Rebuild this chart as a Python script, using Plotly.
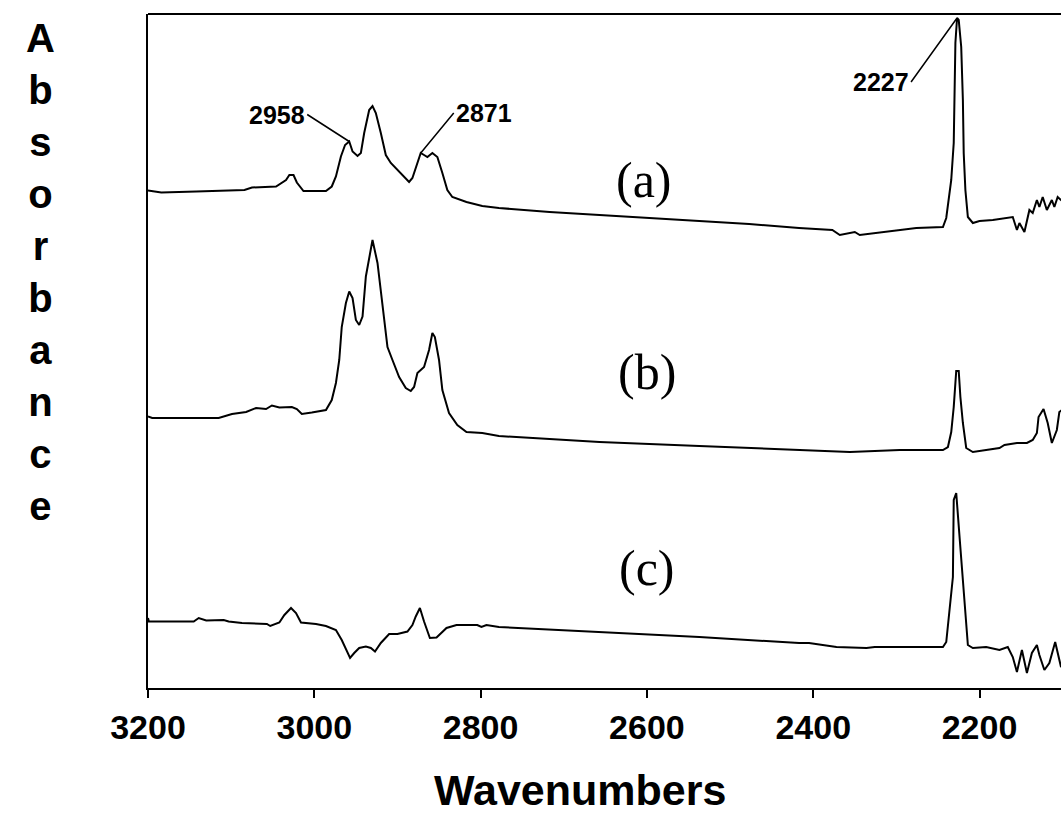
import plotly.graph_objects as go

# ---- data (wavenumber, absorbance in arbitrary units) ----
wn_a = [3200, 3184, 3142, 3115, 3084, 3075, 3046, 3034, 3030, 3025, 3021, 3013, 2986, 2979,
        2974, 2968, 2963, 2958, 2954, 2948, 2944, 2940, 2934, 2930, 2926, 2920, 2914, 2908,
        2898, 2886, 2882, 2878, 2872, 2868, 2864, 2858, 2852, 2846, 2840, 2834, 2817, 2798,
        2778, 2717, 2657, 2597, 2537, 2477, 2417, 2377, 2368, 2350, 2344, 2305, 2276, 2244,
        2240, 2234, 2231, 2229, 2227, 2225, 2222, 2220, 2219, 2217, 2214, 2208, 2200, 2184,
        2168, 2160, 2155, 2152, 2146, 2140, 2136, 2131, 2128, 2124, 2119, 2113, 2110, 2106,
        2102, 2098]
abs_a = [0.995, 0.991, 0.993, 0.994, 0.996, 1.001, 1.003, 1.016, 1.026, 1.026, 1.011, 0.994, 0.994, 1.003,
         1.023, 1.063, 1.086, 1.093, 1.073, 1.064, 1.070, 1.110, 1.156, 1.164, 1.150, 1.110, 1.066, 1.050,
         1.032, 1.012, 1.020, 1.042, 1.070, 1.066, 1.062, 1.070, 1.062, 1.030, 0.996, 0.982, 0.972, 0.964,
         0.960, 0.952, 0.946, 0.940, 0.934, 0.928, 0.920, 0.916, 0.906, 0.912, 0.906, 0.914, 0.920, 0.922,
         0.940, 1.016, 1.090, 1.290, 1.340, 1.336, 1.282, 1.176, 1.070, 0.996, 0.942, 0.930, 0.934, 0.936,
         0.940, 0.942, 0.916, 0.930, 0.912, 0.956, 0.950, 0.976, 0.962, 0.982, 0.956, 0.976, 0.962, 0.982,
         0.976, 0.980]

wn_b = [3200, 3195, 3115, 3099, 3082, 3070, 3058, 3051, 3042, 3027, 3021, 3015, 3003, 2986,
        2979, 2974, 2970, 2967, 2962, 2958, 2954, 2950, 2946, 2942, 2938, 2933, 2930, 2924,
        2918, 2912, 2906, 2898, 2890, 2884, 2880, 2876, 2868, 2862, 2858, 2855, 2850, 2846,
        2838, 2828, 2817, 2798, 2778, 2657, 2537, 2417, 2356, 2296, 2244, 2238, 2234, 2231,
        2229, 2228, 2225, 2223, 2220, 2216, 2208, 2192, 2176, 2170, 2155, 2143, 2136, 2131,
        2129, 2123, 2118, 2113, 2107, 2104, 2098]
abs_b = [0.543, 0.540, 0.540, 0.548, 0.552, 0.560, 0.558, 0.565, 0.561, 0.562, 0.558, 0.548, 0.551, 0.556,
         0.576, 0.610, 0.656, 0.722, 0.770, 0.793, 0.780, 0.736, 0.726, 0.743, 0.823, 0.870, 0.896, 0.850,
         0.762, 0.682, 0.656, 0.622, 0.600, 0.594, 0.602, 0.630, 0.642, 0.676, 0.710, 0.702, 0.656, 0.596,
         0.550, 0.526, 0.512, 0.510, 0.504, 0.492, 0.484, 0.476, 0.472, 0.476, 0.476, 0.482, 0.512, 0.562,
         0.612, 0.634, 0.634, 0.582, 0.530, 0.480, 0.472, 0.476, 0.480, 0.486, 0.490, 0.490, 0.496, 0.510,
         0.542, 0.558, 0.530, 0.490, 0.516, 0.552, 0.560]

wn_c = [3200, 3199, 3145, 3139, 3130, 3109, 3103, 3087, 3057, 3053, 3042, 3036, 3028, 3022,
        3016, 2998, 2986, 2974, 2967, 2960, 2957, 2952, 2946, 2938, 2932, 2927, 2920, 2910,
        2900, 2888, 2882, 2878, 2873, 2868, 2861, 2853, 2841, 2829, 2804, 2799, 2793, 2778,
        2657, 2537, 2417, 2405, 2372, 2336, 2326, 2244, 2240, 2236, 2232, 2231, 2228, 2224,
        2220, 2217, 2214, 2208, 2192, 2176, 2166, 2160, 2155, 2149, 2143, 2137, 2131, 2128,
        2122, 2116, 2109, 2102, 2098]
abs_c = [0.140, 0.133, 0.133, 0.140, 0.135, 0.136, 0.133, 0.130, 0.128, 0.124, 0.131, 0.146, 0.160, 0.150,
         0.131, 0.128, 0.124, 0.116, 0.096, 0.070, 0.060, 0.070, 0.080, 0.083, 0.080, 0.073, 0.090, 0.108,
         0.108, 0.113, 0.126, 0.143, 0.160, 0.133, 0.100, 0.101, 0.120, 0.126, 0.126, 0.122, 0.126, 0.122,
         0.112, 0.102, 0.090, 0.090, 0.082, 0.080, 0.082, 0.082, 0.092, 0.156, 0.222, 0.376, 0.390, 0.302,
         0.210, 0.142, 0.086, 0.080, 0.082, 0.076, 0.082, 0.062, 0.032, 0.076, 0.030, 0.070, 0.086, 0.066,
         0.036, 0.050, 0.092, 0.042, 0.050]

x_ticks = [3200, 3000, 2800, 2600, 2400, 2200]
x_range = [3200, 2102]
y_range = [0, 1.348]

curve_labels = ["(a)", "(b)", "(c)"]
curve_label_x = [2603, 2600, 2600]
curve_label_y = [1.016, 0.632, 0.240]

peak_labels = ["2958", "2871", "2227"]
peak_x = [2958, 2872, 2227]
peak_y = [1.093, 1.070, 1.340]

# ---- figure ----
fig = go.Figure()
for wn, ab in [(wn_a, abs_a), (wn_b, abs_b), (wn_c, abs_c)]:
    fig.add_trace(go.Scatter(x=wn, y=ab, mode="lines",
                             line=dict(color="black", width=2),
                             showlegend=False, hoverinfo="skip"))

L, T, W, H = 148, 14, 1061, 826
PH = 688 - T

fig.update_layout(
    width=W, height=H,
    margin=dict(l=L, r=0, t=T, b=H - 688, pad=0),
    paper_bgcolor="white", plot_bgcolor="white",
    showlegend=False,
    xaxis=dict(range=x_range, tickvals=x_ticks, ticktext=[str(v) for v in x_ticks],
               showgrid=False, zeroline=False, showline=True, linecolor="black", linewidth=2,
               ticks="outside", ticklen=8, tickwidth=2, tickcolor="black",
               tickfont=dict(family="Liberation Sans", size=34, color="black", weight="bold")),
    yaxis=dict(range=y_range, showgrid=False, zeroline=False, showline=True,
               linecolor="black", linewidth=2, showticklabels=False, ticks=""),
)

# top border
fig.add_shape(type="line", xref="paper", yref="paper", x0=0, x1=1, y0=1, y1=1,
              line=dict(color="black", width=2))

# peak labels with leader lines
offsets = [(-42, -27, "right"), (33, -40, "left"), (-46, 64, "right")]
for txt, px, py, (ax, ay, anc) in zip(peak_labels, peak_x, peak_y, offsets):
    fig.add_annotation(x=px, y=py, xref="x", yref="y", text=txt, showarrow=True,
                       arrowhead=0, arrowwidth=1.5, arrowcolor="black", ax=ax, ay=ay,
                       xanchor=anc, yanchor="middle",
                       font=dict(family="Liberation Sans", size=25, color="black", weight="bold"))

# curve labels
for txt, cx, cy in zip(curve_labels, curve_label_x, curve_label_y):
    fig.add_annotation(x=cx, y=cy, xref="x", yref="y", text=txt, showarrow=False,
                       xanchor="center", yanchor="middle",
                       font=dict(family="Liberation Serif", size=50, color="black"))

# axis titles
fig.add_annotation(x=(40 - L) / (W - L), y=(688 - 272) / PH, xref="paper", yref="paper",
                   text="<br>".join(list("Absorbance")), showarrow=False,
                   xanchor="center", yanchor="middle", align="center",
                   font=dict(family="Liberation Sans", size=40, color="black", weight="bold"))
fig.add_annotation(x=(580 - L) / (W - L), y=(688 - 790) / PH, xref="paper", yref="paper",
                   text="Wavenumbers", showarrow=False, xanchor="center", yanchor="middle",
                   font=dict(family="Liberation Sans", size=43, color="black", weight="bold"))

fig.write_html("out.html")
